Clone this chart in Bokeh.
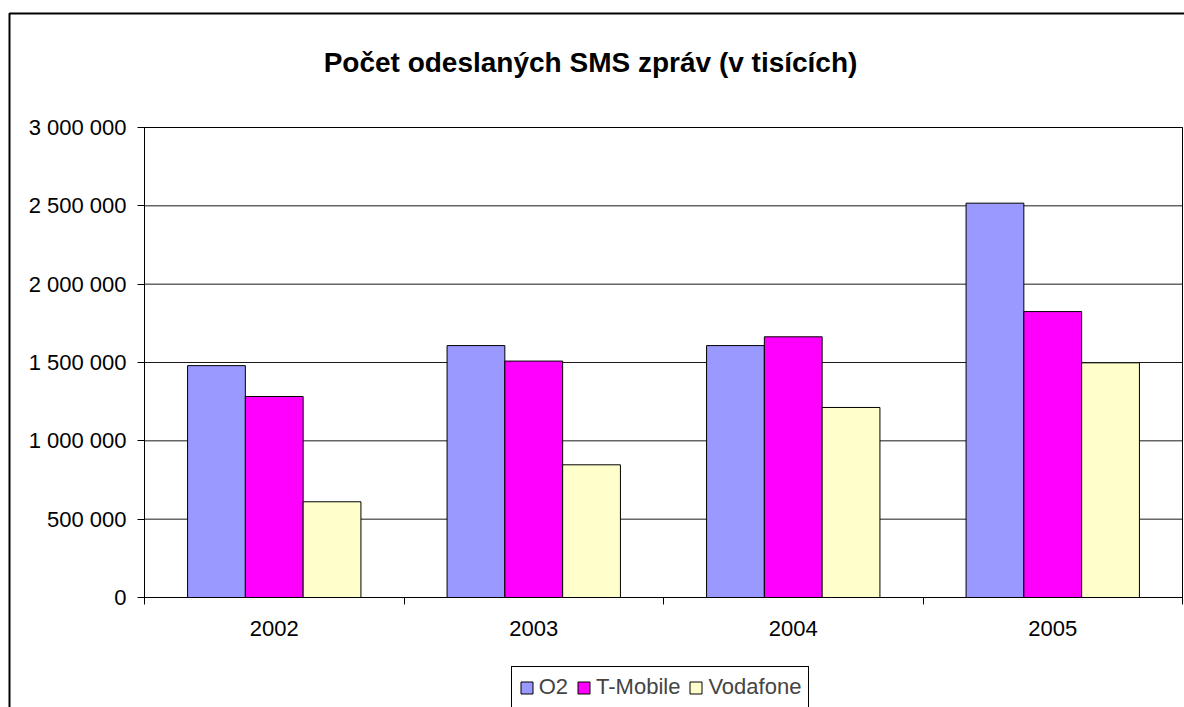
from bokeh.plotting import figure
from bokeh.models import (Range1d, FixedTicker, Label, Legend, LegendItem,
                          BoxAnnotation, ColumnDataSource)
from bokeh.embed import file_html
from bokeh.resources import INLINE

# ---- data ----
years = ["2002", "2003", "2004", "2005"]
series = ["O2", "T-Mobile", "Vodafone"]
o2 = [1480000, 1608000, 1608000, 2517000]
tmobile = [1283000, 1509000, 1664000, 1825000]
vodafone = [611000, 847000, 1213000, 1498000]
colors = ["#9999FF", "#FF00FF", "#FFFFCC"]
y_ticks = [0, 500000, 1000000, 1500000, 2000000, 2500000, 3000000]
y_tick_labels = ["0", "500 000", "1 000 000", "1 500 000", "2 000 000",
                 "2 500 000", "3 000 000"]
title_text = "Počet odeslaných SMS zpráv (v tisících)"

FONT = "Liberation Sans"

# ---- layout (canvas pixels) ----
W, H = 1184, 707
PL, PR, PT, PB = 144, 1182, 127, 597     # plot area edges
n = len(years)
ymax = y_ticks[-1]
xs = (PR - PL) / n
ys = (PB - PT) / ymax

p = figure(width=W, height=H,
           x_range=Range1d(-PL / xs, n + (W - PR) / xs),
           y_range=Range1d(-(H - PB) / ys, ymax + PT / ys),
           title=None, output_backend="svg", toolbar_location=None,
           min_border=0, min_border_left=0, min_border_right=0,
           min_border_top=0, min_border_bottom=0,
           background_fill_color="white", border_fill_color="white")
p.outline_line_color = None
p.xgrid.visible = False
p.ygrid.visible = False

# horizontal gridlines at the y ticks, spanning the plot area
p.segment(x0=0, x1=n, y0=y_ticks, y1=y_ticks, line_color="#1a1a1a", line_width=1)

bar_w = 0.2227
x_centers = [k + 0.5 for k in range(n)]
renderers = []
for i, (vals, col) in enumerate(zip([o2, tmobile, vodafone], colors)):
    src = ColumnDataSource(dict(x=[c + (i - 1) * bar_w for c in x_centers], top=vals))
    r = p.vbar(x="x", top="top", bottom=0, width=bar_w, source=src,
               fill_color=col, line_color="black", line_width=1)
    renderers.append(r)

# plot area border
p.add_layout(BoxAnnotation(left=0, right=n, bottom=0, top=ymax,
                           fill_color=None, fill_alpha=0,
                           line_color="black", line_alpha=1, line_width=1))

# x axis: labels at centers, tick marks at category boundaries
xa = p.xaxis[0]
xa.fixed_location = 0
xa.bounds = (0, n)
xa.ticker = FixedTicker(ticks=x_centers, minor_ticks=list(range(n + 1)))
xa.major_label_overrides = {c: y for c, y in zip(x_centers, years)}
xa.major_tick_line_color = None
xa.major_tick_out = 0
xa.major_tick_in = 0
xa.minor_tick_out = 7
xa.minor_tick_in = 0
xa.minor_tick_line_color = "black"
xa.axis_line_color = "black"
xa.major_label_standoff = 16
xa.major_label_text_font = FONT
xa.major_label_text_font_size = "22px"
xa.major_label_text_color = "black"

ya = p.yaxis[0]
ya.fixed_location = 0
ya.bounds = (0, ymax)
ya.ticker = FixedTicker(ticks=y_ticks)
ya.major_label_overrides = {t: l for t, l in zip(y_ticks, y_tick_labels)}
ya.major_tick_out = 7
ya.major_tick_in = 0
ya.major_tick_line_color = "black"
ya.minor_tick_line_color = None
ya.axis_line_color = "black"
ya.major_label_standoff = 11
ya.major_label_text_font = FONT
ya.major_label_text_font_size = "22px"
ya.major_label_text_color = "black"

# title
p.add_layout(Label(x=590, y=H - 62, x_units="screen", y_units="screen",
                   text=title_text, text_align="center", text_baseline="alphabetic",
                   text_font=FONT, text_font_size="28px", text_font_style="bold",
                   text_color="black"))

# outer chart border (left and top edges visible, rest outside the window)
p.add_layout(BoxAnnotation(left=9, right=W + 50, top=H - 13, bottom=-50,
                           left_units="screen", right_units="screen",
                           top_units="screen", bottom_units="screen",
                           fill_color=None, fill_alpha=0,
                           line_color="black", line_alpha=1, line_width=2))

legend = Legend(items=[LegendItem(label=s, renderers=[r]) for s, r in zip(series, renderers)],
                orientation="horizontal", location=(510.7, H - 668.3 - 40),
                glyph_width=15, glyph_height=15, label_standoff=5, spacing=8,
                padding=7, margin=0, border_line_color="black", border_line_alpha=1,
                border_line_width=1,
                label_text_font=FONT, label_text_font_size="22px", label_height=24,
                background_fill_color="white", background_fill_alpha=1)
p.add_layout(legend, "center")

open("out.html", "w").write(file_html(p, INLINE))
